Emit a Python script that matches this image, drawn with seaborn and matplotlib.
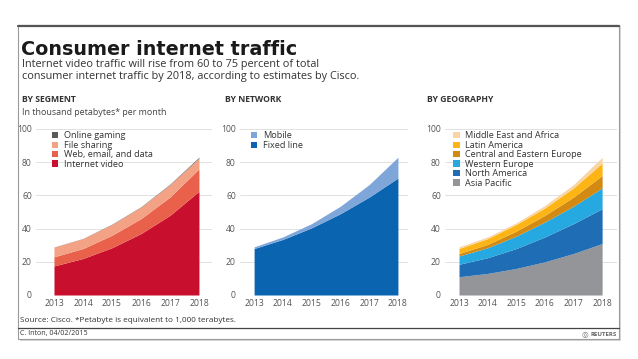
import pandas as pd
import matplotlib.pyplot as plt
import seaborn as sns
from matplotlib.patches import Patch, Rectangle
from matplotlib.lines import Line2D

years = [2013, 2014, 2015, 2016, 2017, 2018]

# by segment (thousand petabytes per month)
internet_video = [17.5, 22, 28.5, 37, 48, 62.5]
web_email_data = [5.5, 6, 7.5, 9, 11, 13.5]
file_sharing = [5.8, 6, 6.5, 7, 7.5, 6.5]
online_gaming = [0.1, 0.1, 0.2, 0.2, 0.3, 0.5]

# by network
fixed_line = [28, 33.5, 40.5, 49, 59, 70.5]
mobile = [1, 1.5, 2.5, 4.5, 7.5, 12.5]

# by geography
asia_pacific = [11, 13, 16, 20, 25, 31]
north_america = [7.5, 9.5, 12, 15, 18, 21]
western_europe = [5, 6, 7.5, 9, 10.5, 12.5]
central_eastern_europe = [1.5, 2, 3, 4, 5.5, 7.5]
latin_america = [3, 3.5, 4, 4.5, 5.5, 7.5]
middle_east_africa = [1, 1, 1, 1.5, 2, 3.5]

seg = pd.DataFrame({'Internet video': internet_video, 'Web, email, and data': web_email_data,
                    'File sharing': file_sharing, 'Online gaming': online_gaming}, index=years)
net = pd.DataFrame({'Fixed line': fixed_line, 'Mobile': mobile}, index=years)
geo = pd.DataFrame({'Asia Pacific': asia_pacific, 'North America': north_america,
                    'Western Europe': western_europe, 'Central and Eastern Europe': central_eastern_europe,
                    'Latin America': latin_america, 'Middle East and Africa': middle_east_africa}, index=years)

seg_colors = ['#c8102e', '#e9604b', '#f4a286', '#5a5a5a']
net_colors = ['#0a64b0', '#7ea6d8']
geo_colors = ['#939598', '#1f6db5', '#25a9e0', '#d38a12', '#fdb515', '#f8d5a5']

sns.set_theme(style="white")
plt.rcParams['font.family'] = ['Open Sans', 'DejaVu Sans']

fig = plt.figure(figsize=(6.38, 3.59), dpi=100)
W, H = 638, 359


def px_axes(x0, x1, y_top, y_bot):
    return fig.add_axes([x0 / W, 1 - y_bot / H, (x1 - x0) / W, (y_bot - y_top) / H])


# card
fig.patches.append(Rectangle((20 / W, 1 - 341 / H), 601 / W, 315 / H, transform=fig.transFigure,
                             facecolor='#d8d8d8', edgecolor='none', zorder=-2))
fig.patches.append(Rectangle((18 / W, 1 - 339 / H), 601 / W, 314 / H, transform=fig.transFigure,
                             facecolor='white', edgecolor='#9a9a9a', linewidth=0.8, zorder=-1))
fig.lines.append(Line2D([18 / W, 619 / W], [1 - 25.5 / H, 1 - 25.5 / H], transform=fig.transFigure,
                        color='#555555', linewidth=1.6))
fig.lines.append(Line2D([18 / W, 619 / W], [1 - 328 / H, 1 - 328 / H], transform=fig.transFigure,
                        color='#444444', linewidth=0.9))

fig.text(21 / W, 1 - 55 / H, 'Consumer internet traffic', fontsize=13.8, fontweight='bold',
         color='#1a1a1a', va='baseline', family=['DejaVu Sans'])
fig.text(22 / W, 1 - 67.5 / H, 'Internet video traffic will rise from 60 to 75 percent of total',
         fontsize=7.8, color='#333333', va='baseline')
fig.text(22 / W, 1 - 78.5 / H, 'consumer internet traffic by 2018, according to estimates by Cisco.',
         fontsize=7.8, color='#333333', va='baseline')

fig.text(22 / W, 1 - 100 / H, 'BY SEGMENT', fontsize=6.2, fontweight='bold', color='#333333', va='center')
fig.text(22 / W, 1 - 112.5 / H, 'In thousand petabytes* per month', fontsize=6.4, color='#444444', va='center')
fig.text(225 / W, 1 - 100 / H, 'BY NETWORK', fontsize=6.2, fontweight='bold', color='#333333', va='center')
fig.text(427 / W, 1 - 100 / H, 'BY GEOGRAPHY', fontsize=6.2, fontweight='bold', color='#333333', va='center')

fig.text(20 / W, 1 - 320 / H, 'Source: Cisco. *Petabyte is equivalent to 1,000 terabytes.',
         fontsize=5.9, color='#333333', va='center', family=['Liberation Sans Narrow', 'Open Sans'])
fig.text(20 / W, 1 - 334 / H, 'C. Inton, 04/02/2015', fontsize=5.1, color='#333333', va='center',
         family=['Liberation Sans Narrow', 'Open Sans'])
fig.text(617 / W, 1 - 334 / H, 'REUTERS', fontsize=4.4, fontweight='bold', color='#666666',
         va='center', ha='right')
fig.text(588 / W, 1 - 334 / H, '\u25CE', fontsize=5.5, color='#777777', va='center', ha='right',
         family=['DejaVu Sans'])

panels = [
    (seg, seg_colors, (36, 212), (2012.38, 2018.45), 0.09),
    (net, net_colors, (240, 408), (2012.51, 2018.35), 0.065),
    (geo, geo_colors, (445, 617), (2012.51, 2018.52), 0.047),
]

for df, colors, (x0, x1), xlim, lx in panels:
    ax = px_axes(x0, x1, 129, 295)
    ax.stackplot(df.index, df.T.values, colors=colors, linewidth=0, zorder=2)
    ax.set_xlim(*xlim)
    ax.set_ylim(0, 100)
    ax.set_yticks([0, 20, 40, 60, 80, 100])
    ax.set_xticks(years)
    ax.grid(axis='y', color='#dcdcdc', linewidth=0.6, zorder=0)
    ax.grid(axis='x', visible=False)
    ax.tick_params(axis='both', length=0, labelsize=6.2, labelcolor='#555555')
    ax.tick_params(axis='y', pad=3)
    ax.tick_params(axis='x', pad=3)
    for s in ax.spines.values():
        s.set_visible(False)
    ax.set_facecolor('none')
    handles = [Patch(facecolor=c, edgecolor='none', label=l)
               for c, l in zip(colors[::-1], list(df.columns)[::-1])]
    ax.legend(handles=handles, loc='upper left', bbox_to_anchor=(lx, 0.985), frameon=False,
              fontsize=6.6, handlelength=0.7, handleheight=0.7, handletextpad=0.6,
              labelspacing=0.05, borderaxespad=0, borderpad=0, labelcolor='#333333')

plt.savefig('out.png', dpi=100)
